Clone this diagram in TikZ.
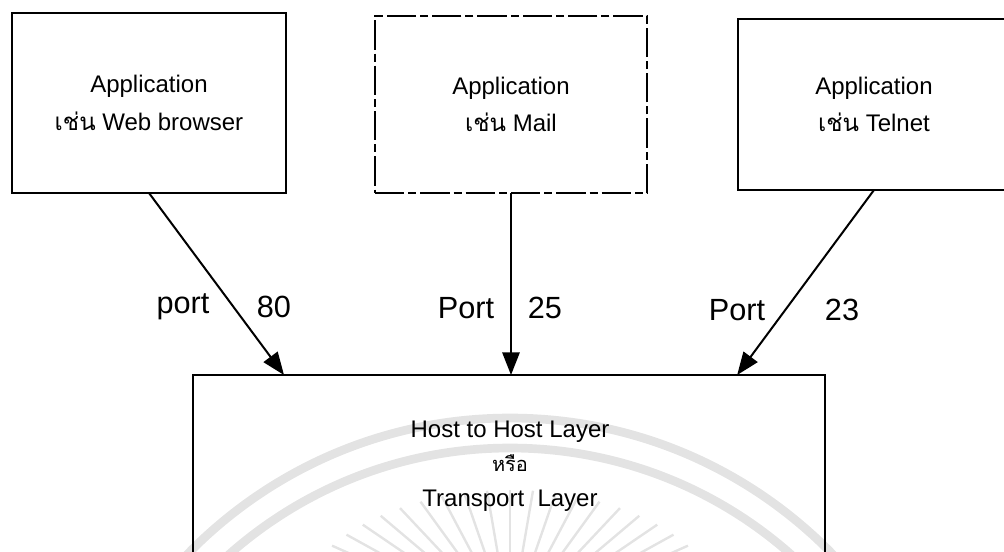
\documentclass[tikz,border=0pt]{standalone}
\usepackage{fontspec}
\setmainfont{Liberation Sans}
\newfontfamily\thai[Script=Thai]{Loma}
\usetikzlibrary{arrows.meta,calc}

\begin{document}
\begin{tikzpicture}[x=0.75pt,y=-0.75pt,
  appbox/.style={draw, line width=0.8pt, inner sep=0pt, outer sep=0pt,
    align=center, font=\fontsize{18}{28}\selectfont},
  layerbox/.style={draw, line width=0.8pt, inner sep=0pt, outer sep=0pt},
  layertext/.style={align=center, font=\fontsize{18}{26}\selectfont},
  portlabel/.style={font=\fontsize{23}{27}\selectfont, inner sep=0pt},
  conn/.style={line width=1.5pt, -{Triangle[length=17pt,width=13pt]}},
  seal/.style={draw=black!11}]
\useasboundingbox (0,0) rectangle (1004,551);

% faint seal in the background
\begin{scope}
  \clip (0,0) rectangle (1004,551);
  \draw[seal, line width=6.5pt] (510,868) circle[radius=450*0.75pt];
  \draw[seal, line width=6.5pt] (510,872) circle[radius=424*0.75pt];
  \foreach \a in {18,24,...,162} {
    \draw[seal, line width=1.8pt]
      ({510+220*cos(\a)},{625-135*sin(\a)}) --
      ({510+0.4*220*cos(\a)},{625-0.4*135*sin(\a)});
  }
\end{scope}

% application boxes
\node[appbox, minimum width=205.5pt, minimum height=135pt] (web) at (149,103)
  {Application\\{\thai เช่น} Web browser};
\node[appbox, dash pattern=on 22pt off 3pt on 6pt off 3pt, minimum width=204pt, minimum height=132.75pt] (mail) at (511,104.5)
  {Application\\{\thai เช่น} Mail};
\node[appbox, minimum width=204pt, minimum height=128.25pt] (telnet) at (874,104.5)
  {Application\\{\thai เช่น} Telnet};

% transport layer box
\node[layerbox, minimum width=474pt, minimum height=168.75pt] (host) at (509,487.5) {};
\node[layertext] (hosttext) at (510,466)
  {Host to Host Layer\\{\fontsize{15}{26}\thai หรือ}\\Transport\ \ Layer};

% port connections
\draw[conn] (web.south) -- ($(host.north west)!0.144!(host.north east)$);
\draw[conn] (mail.south) -- (mail.south |- host.north);
\draw[conn] (telnet.south) -- ($(host.north west)!0.861!(host.north east)$);

% port labels
\node[portlabel] (p1) at (183,307) {port};
\node[portlabel] (n1) at (274,307) {80};
\node[portlabel] (p2) at (466,308) {Port};
\node[portlabel] (n2) at (545,308) {25};
\node[portlabel] (p3) at (737,310) {Port};
\node[portlabel] (n3) at (842,310) {23};
\end{tikzpicture}
\end{document}
